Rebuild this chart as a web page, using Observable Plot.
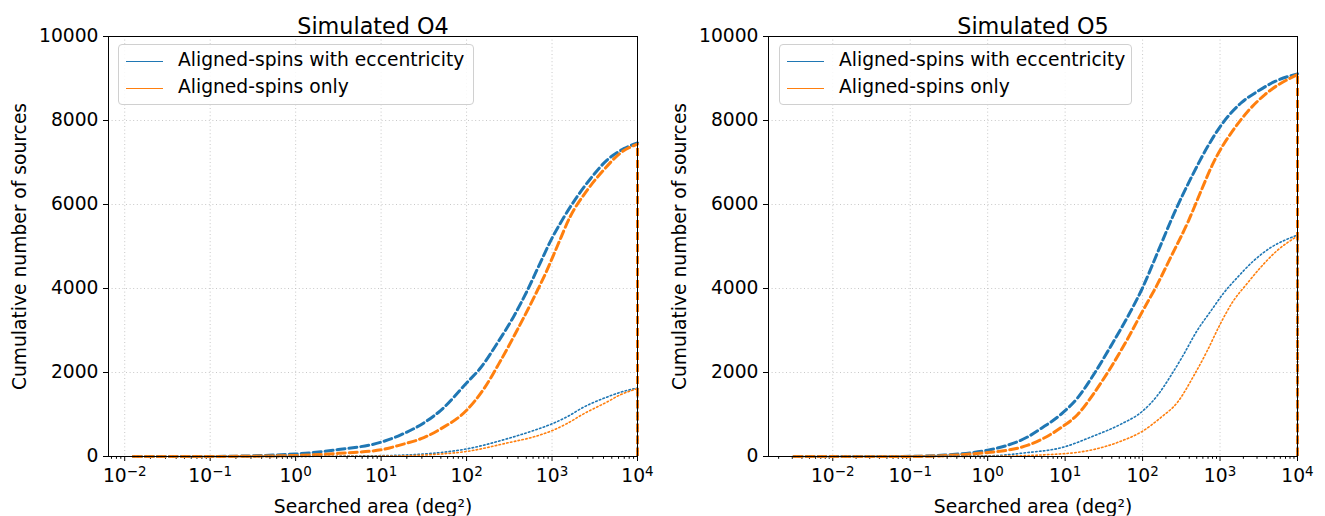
<!DOCTYPE html>
<html>
<head>
<meta charset="utf-8">
<script src="https://cdn.jsdelivr.net/npm/d3@7"></script>
<script src="https://cdn.jsdelivr.net/npm/@observablehq/plot@0.6"></script>
<style>
  html, body { margin: 0; padding: 0; background: #fff; }
  #wrap { position: relative; width: 1325px; height: 516px; overflow: hidden; font-family: "DejaVu Sans", sans-serif; }
  .panel { position: absolute; top: 0; }
  .legend { position: absolute; top: 44px; height: 59px; border: 1px solid #d0d0d0; border-radius: 4px; background: rgba(255,255,255,0.85); z-index: 2; }
  .legend .item { position: absolute; left: 0; font-size: 18.7px; color: #000; white-space: nowrap; }
  .legend .swatch { position: absolute; left: 7px; width: 37px; height: 0; border-top: 1.8px solid; }
  .legend .lbl { position: absolute; left: 59px; top: -12px; }
</style>
</head>
<body>
<div id="wrap"></div>
<script>
// ---------------- data ----------------
const panelTitles = ["Simulated O4", "Simulated O5"];
const seriesNames = ["Aligned-spins with eccentricity", "Aligned-spins only"];
const yTickValues = [0, 2000, 4000, 6000, 8000, 10000];
const xTickValues = [0.01, 0.1, 1, 10, 100, 1000, 10000];
const xTickExponents = ["−2", "−1", "0", "1", "2", "3", "4"];
const xLabel = "Searched area (deg²)";
const yLabel = "Cumulative number of sources";
const xDomainO4 = [0.00646, 10000];
const xDomainO5 = [0.00148, 10000];

// O4: [searched area deg², cumulative number]
const o4EccUpper = [[0.0126,0],[0.1,2],[1,60],[3.16,165],[10,341],[17,516],[31.6,800],[50,1100],[100,1750],[144.5,2100],[229,2700],[355,3330],[513,3950],[724,4600],[1000,5200],[1380,5700],[1950,6177],[2818,6614],[4365,7051],[6918,7329],[10000,7464]];
const o4OnlyUpper = [[0.0126,0],[0.1,1],[1,25],[3.16,75],[10,159],[17,278],[31.6,450],[50,660],[100,1100],[158,1600],[251,2287],[389,3001],[617,3795],[871,4431],[1148,5000],[1622,5701],[2570,6336],[3981,6812],[6166,7209],[10000,7440]];
const o4EccLower = [[0.0126,0],[1,3],[10,20],[31.6,60],[50,95],[100,180],[295,420],[631,630],[1000,778],[1514,950],[2344,1175],[4365,1413],[6310,1530],[10000,1630]];
const o4OnlyLower = [[0.0126,0],[10,8],[31.6,35],[50,60],[100,120],[295,320],[631,476],[1000,615],[1514,790],[2344,1016],[4365,1294],[6310,1470],[10000,1615]];

// O5
const o5EccUpper = [[0.00316,0],[0.1,3],[0.251,30],[1,150],[1.82,270],[3.31,470],[4.9,668],[8.79,1000],[14.5,1397],[23.4,1953],[38.9,2628],[63.1,3303],[100,4018],[158,4880],[257,5800],[427,6650],[692,7380],[1000,7850],[1905,8430],[3090,8700],[5129,8930],[10000,9111]];
const o5OnlyUpper = [[0.00316,0],[0.1,2],[1,95],[3.31,270],[8.79,683],[14.5,1000],[23.4,1500],[38.9,2120],[63.1,2780],[100,3462],[155,4097],[229,4732],[389,5600],[562,6300],[813,6980],[1549,7823],[2291,8220],[3802,8618],[10000,9095]];
const o5EccLower = [[0.00316,0],[1,16],[3.31,95],[8.79,206],[23.4,490],[52.5,770],[100,1080],[155,1450],[229,1910],[339,2430],[501,2985],[759,3462],[1122,3899],[1660,4256],[2692,4653],[4467,4970],[7244,5169],[10000,5272]];
const o5OnlyLower = [[0.00316,0],[1,5],[10,70],[23.4,167],[52.5,365],[100,603],[170,921],[282,1290],[457,1920],[676,2500],[1000,3144],[1479,3700],[2188,4097],[3311,4494],[5370,4891],[10000,5248]];

// ---------------- drawing ----------------
const blue = "#1f77b4", orange = "#ff7f0e";
const dashed = {strokeWidth: 3, strokeDasharray: "8,4"};
const dotted = {strokeWidth: 1.6, strokeDasharray: "1.5,2.4"};

function minorTicks(domain) {
  const out = [];
  for (let e = -4; e <= 4; e++) for (let k = 2; k <= 9; k++) {
    const v = k * Math.pow(10, e);
    if (v >= domain[0] && v <= domain[1]) out.push(v);
  }
  return out;
}

function seriesMarks(data, color, style) {
  const last = data[data.length - 1];
  return [
    Plot.line(data, {x: d => d[0], y: d => d[1], stroke: color, curve: "monotone-x", ...style}),
    Plot.ruleX([last], {x: d => d[0], y1: 0, y2: d => d[1], stroke: color, ...style})
  ];
}

function panel(title, domain, series) {
  const majors = xTickValues.filter(v => v >= domain[0] && v <= domain[1]);
  const svg = Plot.plot({
    width: 662, height: 516,
    marginLeft: 108, marginRight: 25, marginTop: 36, marginBottom: 60,
    style: {fontFamily: "DejaVu Sans", fontSize: "18.7px", color: "#000", background: "transparent"},
    x: {type: "log", domain},
    y: {domain: [0, 10000]},
    marks: [
      Plot.gridX(majors, {stroke: "#b0b0b0", strokeOpacity: 0.7, strokeDasharray: "1,2.6"}),
      Plot.gridY(yTickValues, {stroke: "#b0b0b0", strokeOpacity: 0.7, strokeDasharray: "1,2.6"}),
      Plot.axisY({ticks: yTickValues, tickSize: 5, tickPadding: 5, tickFormat: d => String(d), fontSize: 18.7,
                  label: yLabel, labelAnchor: "center", labelArrow: "none", labelOffset: 96}),
      Plot.axisX({ticks: majors, tickSize: 5, tickPadding: 7, fontSize: 18.7,
                  tickFormat: d => "10" + xTickExponents[xTickValues.indexOf(d)],
                  label: xLabel, labelAnchor: "center", labelArrow: "none", labelOffset: 56}),
      Plot.axisX({ticks: minorTicks(domain), tickSize: 2.8, text: null, label: null}),
      ...seriesMarks(series[0], blue, dashed),
      ...seriesMarks(series[1], orange, dashed),
      ...seriesMarks(series[2], blue, dotted),
      ...seriesMarks(series[3], orange, dotted),
      Plot.frame({stroke: "#000", strokeWidth: 1}),
      Plot.text([title], {frameAnchor: "top", dy: -18, fontSize: 22.3, fill: "#000"})
    ]
  });
  // render exponents as superscripts
  svg.querySelectorAll('g[aria-label="x-axis tick label"] text').forEach(t => {
    const s = t.textContent;
    if (!s.startsWith("10")) return;
    const exp = s.slice(2);
    t.textContent = "10";
    const ts = document.createElementNS("http://www.w3.org/2000/svg", "tspan");
    ts.setAttribute("dy", "-0.42em");
    ts.setAttribute("font-size", "0.72em");
    ts.textContent = exp;
    t.appendChild(ts);
  });
  return svg;
}

const wrap = document.getElementById("wrap");
const panels = [
  {left: 0, title: panelTitles[0], domain: xDomainO4, series: [o4EccUpper, o4OnlyUpper, o4EccLower, o4OnlyLower], legendLeft: 118, legendWidth: 354},
  {left: 660, title: panelTitles[1], domain: xDomainO5, series: [o5EccUpper, o5OnlyUpper, o5EccLower, o5OnlyLower], legendLeft: 779, legendWidth: 351}
];
for (const p of panels) {
  const div = document.createElement("div");
  div.className = "panel";
  div.style.left = p.left + "px";
  div.appendChild(panel(p.title, p.domain, p.series));
  wrap.appendChild(div);

  const lg = document.createElement("div");
  lg.className = "legend";
  lg.style.left = p.legendLeft + "px";
  lg.style.width = p.legendWidth + "px";
  [[seriesNames[0], blue, 16], [seriesNames[1], orange, 43]].forEach(([name, color, top]) => {
    const it = document.createElement("div");
    it.className = "item";
    it.style.top = top + "px";
    const sw = document.createElement("div");
    sw.className = "swatch";
    sw.style.borderTopColor = color;
    const lb = document.createElement("div");
    lb.className = "lbl";
    lb.textContent = name;
    it.appendChild(sw); it.appendChild(lb);
    lg.appendChild(it);
  });
  wrap.appendChild(lg);
}
</script>
</body>
</html>
